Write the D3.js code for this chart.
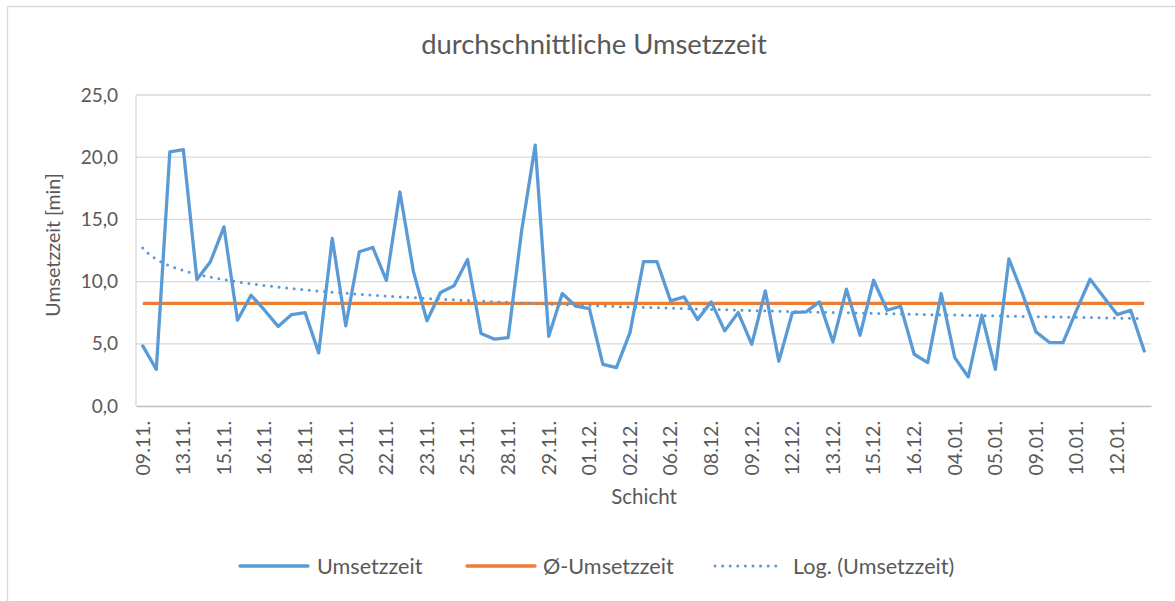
<!DOCTYPE html>
<html>
<head>
<meta charset="utf-8">
<script src="https://cdn.jsdelivr.net/npm/d3@7"></script>
<style>
  body { margin: 0; background: #fff; }
  svg text { font-family: Lato, "Open Sans", sans-serif; fill: #595959; }
</style>
</head>
<body>
<svg id="chart" width="1175" height="601"></svg>
<script>
// Shift dates (one entry per shift; only every third is labelled on the axis)
const shifts = [
  "09.11.", "09.11.", "10.11.", "13.11.", "13.11.", "14.11.", "15.11.", "15.11.", "16.11.", "16.11.",
  "17.11.", "17.11.", "18.11.", "18.11.", "19.11.", "20.11.", "20.11.", "21.11.", "22.11.", "22.11.",
  "23.11.", "23.11.", "24.11.", "24.11.", "25.11.", "27.11.", "27.11.", "28.11.", "28.11.", "29.11.",
  "29.11.", "30.11.", "30.11.", "01.12.", "01.12.", "02.12.", "02.12.", "04.12.", "05.12.", "06.12.",
  "06.12.", "07.12.", "08.12.", "08.12.", "09.12.", "09.12.", "11.12.", "11.12.", "12.12.", "12.12.",
  "13.12.", "13.12.", "14.12.", "14.12.", "15.12.", "15.12.", "15.12.", "16.12.", "16.12.", "18.12.",
  "04.01.", "04.01.", "04.01.", "05.01.", "05.01.", "08.01.", "09.01.", "09.01.", "09.01.", "10.01.",
  "10.01.", "11.01.", "12.01.", "12.01.", "15.01."
];
const tickEvery = 3;

// Changeover time per shift [min]
const umsetzzeit = [
  4.83, 2.95, 20.43, 20.6, 10.17, 11.6, 14.4, 6.9, 8.9, 7.7,
  6.4, 7.35, 7.5, 4.27, 13.47, 6.45, 12.4, 12.74, 10.1, 17.2,
  10.8, 6.85, 9.12, 9.66, 11.78, 5.82, 5.37, 5.5, 14.13, 20.97,
  5.6, 9.04, 8.02, 7.83, 3.35, 3.09, 5.9, 11.6, 11.6, 8.45,
  8.77, 6.95, 8.37, 6.04, 7.51, 4.96, 9.25, 3.6, 7.51, 7.56,
  8.37, 5.15, 9.39, 5.69, 10.11, 7.7, 8.02, 4.16, 3.49, 9.04,
  3.89, 2.33, 7.3, 2.95, 11.83, 9.04, 5.96, 5.1, 5.1, 7.7,
  10.19, 8.77, 7.35, 7.7, 4.42
];

// Average changeover time [min]
const durchschnitt = 8.25;

const yTicks = [0, 5, 10, 15, 20, 25];

const title = "durchschnittliche Umsetzzeit";
const yTitle = "Umsetzzeit [min]";
const xTitle = "Schicht";
const legendItems = ["Umsetzzeit", "Ø-Umsetzzeit", "Log. (Umsetzzeit)"];

const colors = { line: "#5B9BD5", avg: "#ED7D31", grid: "#d9d9d9", axis: "#bfbfbf", border: "#d9d9d9" };

const svg = d3.select("#chart");
const plot = { left: 136, right: 1151, top: 95, bottom: 406 };

const idx = d3.range(umsetzzeit.length);
const x = d3.scaleBand().domain(idx).range([plot.left, plot.right]).padding(0);
const cx = i => x(i) + x.bandwidth() / 2;
const y = d3.scaleLinear().domain([0, 25]).range([plot.bottom, plot.top]);

// Chart frame (top and left edges)
svg.append("line").attr("x1", 7.5).attr("x2", 1175).attr("y1", 6.5).attr("y2", 6.5)
  .attr("stroke", colors.border).attr("stroke-width", 1.3);
svg.append("line").attr("x1", 7.5).attr("x2", 7.5).attr("y1", 6.5).attr("y2", 601)
  .attr("stroke", colors.border).attr("stroke-width", 1.3);

// Title
svg.append("text").attr("x", 594).attr("y", 54).attr("text-anchor", "middle")
  .attr("font-size", 27.4).text(title);

// Horizontal gridlines + y labels
const yAxis = d3.axisLeft(y).tickValues(yTicks).tickSize(0).tickPadding(0)
  .tickFormat(d => d3.format(".1f")(d).replace(".", ","));
const gy = svg.append("g").attr("transform", `translate(${plot.left - 18},0)`).call(yAxis);
gy.select(".domain").remove();
gy.selectAll("text").attr("font-size", 19).attr("fill", "#595959").style("font-family", "Lato, 'Open Sans', sans-serif");

svg.append("g").selectAll("line").data(yTicks.filter(d => d > 0)).join("line")
  .attr("x1", plot.left).attr("x2", plot.right)
  .attr("y1", d => y(d)).attr("y2", d => y(d))
  .attr("stroke", colors.grid).attr("stroke-width", 1.3);

// Left edge of plot area
svg.append("line").attr("x1", plot.left).attr("x2", plot.left)
  .attr("y1", plot.top).attr("y2", plot.bottom)
  .attr("stroke", colors.grid).attr("stroke-width", 1.3);

// Category axis
const xAxis = d3.axisBottom(x).tickSize(0).tickPadding(0)
  .tickValues(idx.filter(i => i % tickEvery === 0))
  .tickFormat(i => shifts[i]);
const gx = svg.append("g").attr("transform", `translate(0,${plot.bottom})`).call(xAxis);
gx.select(".domain").attr("stroke", colors.axis).attr("stroke-width", 1.5);
gx.selectAll("text")
  .attr("font-size", 19.5).attr("fill", "#595959").style("font-family", "Lato, 'Open Sans', sans-serif")
  .attr("transform", "rotate(-90)")
  .attr("text-anchor", "end")
  .attr("x", -15).attr("y", 0).attr("dy", "0.35em");

// Axis titles
svg.append("text").attr("transform", "translate(60,245) rotate(-90)")
  .attr("text-anchor", "middle").attr("font-size", 19.6).text(yTitle);
svg.append("text").attr("x", 644).attr("y", 504).attr("text-anchor", "middle")
  .attr("font-size", 20.5).text(xTitle);

// Logarithmic trend, least squares fit of y = a*ln(k) + b with k = 1..n
const lnK = idx.map(i => Math.log(i + 1));
const mX = d3.mean(lnK), mY = d3.mean(umsetzzeit);
const a = d3.sum(idx, i => (lnK[i] - mX) * (umsetzzeit[i] - mY)) / d3.sum(lnK, v => (v - mX) ** 2);
const b = mY - a * mX;
const xPos = d3.scaleLinear().domain([0, idx.length - 1]).range([cx(0), cx(idx.length - 1)]);
const trendSamples = d3.range(0, idx.length - 1 + 1e-9, 0.1);

// Average line
svg.append("line")
  .attr("x1", cx(0)).attr("x2", cx(idx.length - 1))
  .attr("y1", y(durchschnitt)).attr("y2", y(durchschnitt))
  .attr("stroke", colors.avg).attr("stroke-width", 3.3);

// Main series
svg.append("path").datum(idx)
  .attr("fill", "none").attr("stroke", colors.line).attr("stroke-width", 3.3)
  .attr("stroke-linejoin", "round").attr("stroke-linecap", "round")
  .attr("d", d3.line().x(i => cx(i)).y(i => y(umsetzzeit[i])));

// Trend line (dotted)
svg.append("path").datum(trendSamples)
  .attr("fill", "none").attr("stroke", colors.line).attr("stroke-width", 3)
  .attr("stroke-linecap", "round").attr("stroke-dasharray", "0 7.6")
  .attr("d", d3.line().x(t => xPos(t)).y(t => y(a * Math.log(t + 1) + b)));

// Legend
const legendY = 566;
const legend = [
  { x1: 240, x2: 308, tx: 317, dash: null, color: colors.line, label: legendItems[0] },
  { x1: 467, x2: 535, tx: 543, dash: null, color: colors.avg, label: legendItems[1] },
  { x1: 715, x2: 783, tx: 793, dash: "0 7.6", color: colors.line, label: legendItems[2] }
];
const lg = svg.append("g").selectAll("g").data(legend).join("g");
lg.append("line")
  .attr("x1", d => d.x1).attr("x2", d => d.x2).attr("y1", legendY).attr("y2", legendY)
  .attr("stroke", d => d.color).attr("stroke-width", d => d.dash ? 3 : 3.3)
  .attr("stroke-linecap", "round")
  .attr("stroke-dasharray", d => d.dash);
lg.append("text").attr("x", d => d.tx).attr("y", legendY).attr("dy", "0.35em")
  .attr("font-size", 21.6).text(d => d.label);
</script>
</body>
</html>
